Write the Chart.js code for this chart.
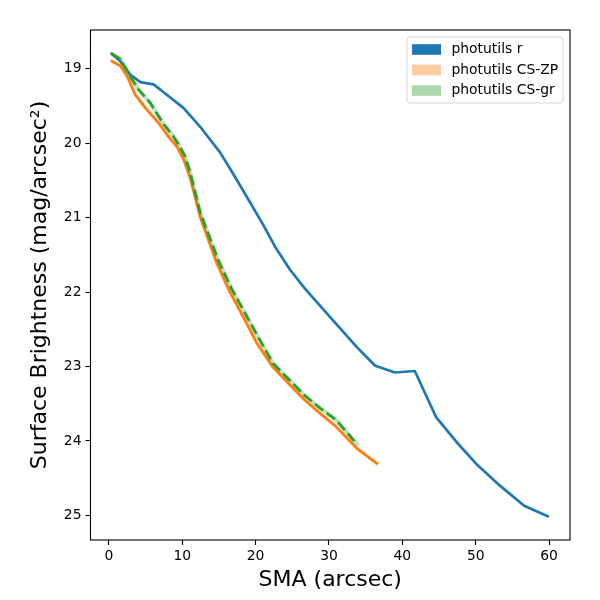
<!DOCTYPE html>
<html>
<head>
<meta charset="utf-8">
<script src="https://cdn.jsdelivr.net/npm/chart.js@4.4.1/dist/chart.umd.min.js"></script>
<style>
  html, body { margin: 0; padding: 0; background: #fff; }
  #chart { display: block; }
</style>
</head>
<body>
<canvas id="chart" width="600" height="600"></canvas>
<script>
/* Surface brightness profiles */

// photutils r
const smaR = [0.43, 1.56, 2.9, 4.3, 6.1, 7.9, 10.2, 12.45, 15.2, 17.0, 18.8, 21.06, 22.65,
  24.7, 26.7, 30.1, 33.8, 36.3, 39.0, 41.7, 44.6, 47.35, 50.2, 53.3, 56.6, 59.8];
const sbR = [18.80, 18.90, 19.08, 19.18, 19.21, 19.35, 19.53, 19.78, 20.13, 20.42, 20.72, 21.10, 21.39,
  21.70, 21.95, 22.33, 22.74, 22.99, 23.08, 23.06, 23.68, 24.01, 24.32, 24.60, 24.87, 25.01];

// photutils CS-ZP
const smaZP = [0.43, 1.56, 2.5, 3.6, 5.0, 6.8, 8.1, 9.3, 10.2, 11.1, 12.45, 14.7, 16.5,
  18.3, 20.2, 22.3, 24.7, 26.7, 28.8, 31.0, 33.8, 36.5];
const sbZP = [18.90, 18.96, 19.10, 19.35, 19.53, 19.73, 19.91, 20.05, 20.22, 20.47, 20.99, 21.61, 22.00,
  22.33, 22.69, 23.00, 23.25, 23.45, 23.63, 23.81, 24.10, 24.30];

// photutils CS-gr
const smaGr = [0.43, 1.56, 2.9, 4.05, 5.65, 7.5, 8.8, 9.7, 10.4, 11.1, 12.45, 14.9, 16.7,
  18.6, 20.6, 22.4, 24.2, 26.7, 28.8, 31.0, 33.8];
const sbGr = [18.80, 18.87, 19.10, 19.28, 19.46, 19.75, 19.91, 20.05, 20.18, 20.40, 20.93, 21.57, 21.95,
  22.29, 22.65, 22.96, 23.14, 23.39, 23.56, 23.72, 24.04];

const xTicks = [0, 10, 20, 30, 40, 50, 60];
const yTicks = [19, 20, 21, 22, 23, 24, 25];
const legendLabels = ["photutils r", "photutils CS-ZP", "photutils CS-gr"];

const FONT = "'DejaVu Sans', sans-serif";

function points(xs, ys) {
  return xs.map((x, i) => ({ x, y: ys[i] }));
}

function line(data, color, extra) {
  return Object.assign({
    data,
    borderColor: color,
    borderWidth: 2.7,
    pointRadius: 0,
    fill: false,
    tension: 0,
    borderJoinStyle: "round",
    borderCapStyle: "square"
  }, extra || {});
}

// frame around the plot area
const framePlugin = {
  id: "frame",
  afterDatasetsDraw(chart) {
    const { ctx, chartArea: a } = chart;
    ctx.save();
    ctx.strokeStyle = "#000";
    ctx.lineWidth = 1.1;
    ctx.strokeRect(a.left, a.top, a.right - a.left, a.bottom - a.top);
    ctx.restore();
  }
};

// matplotlib-style legend with patches, upper right
const legendPlugin = {
  id: "patchLegend",
  afterDraw(chart) {
    const { ctx } = chart;
    const swatches = ["#1f77b4", "rgba(255,127,14,0.4)", "rgba(44,160,44,0.4)"];
    const bx = 407, by = 37, bw = 156, bh = 66;
    ctx.save();
    ctx.beginPath();
    ctx.roundRect(bx, by, bw, bh, 3);
    ctx.fillStyle = "rgba(255,255,255,0.8)";
    ctx.fill();
    ctx.strokeStyle = "#d6d6d6";
    ctx.lineWidth = 1;
    ctx.stroke();
    ctx.font = "13.9px " + FONT;
    ctx.textBaseline = "middle";
    ctx.textAlign = "left";
    legendLabels.forEach((label, i) => {
      const cy = by + 12.5 + i * 20.5;
      ctx.fillStyle = swatches[i];
      ctx.fillRect(412, cy - 5.3, 29, 10.6);
      ctx.fillStyle = "#000";
      ctx.fillText(label, 451.5, cy);
    });
    ctx.restore();
  }
};

new Chart(document.getElementById("chart"), {
  type: "line",
  data: {
    datasets: [
      line(points(smaGr, sbGr), "#2ca02c", { borderDash: [10.3, 4.4], borderCapStyle: "butt", order: 0 }),
      line(points(smaGr, sbGr), "rgba(44,160,44,0.3)", { borderWidth: 4, order: 1 }),
      line(points(smaZP, sbZP), "#ff7f0e", { order: 2 }),
      line(points(smaZP, sbZP), "rgba(255,127,14,0.2)", { borderWidth: 3.6, order: 3 }),
      line(points(smaR, sbR), "#1f77b4", { order: 4 })
    ]
  },
  options: {
    responsive: false,
    animation: false,
    devicePixelRatio: 1,
    layout: { padding: { top: 30, right: 30, left: 0, bottom: 0 } },
    plugins: {
      legend: { display: false },
      tooltip: { enabled: false }
    },
    scales: {
      x: {
        type: "linear",
        min: -2.5,
        max: 62.85,
        afterBuildTicks: (s) => { s.ticks = xTicks.map(v => ({ value: v })); },
        afterFit: (s) => { s.height = 60; },
        grid: { drawOnChartArea: false, drawTicks: true, tickLength: 5, tickColor: "#000", tickWidth: 1.1 },
        border: { display: false },
        ticks: { color: "#000", font: { family: FONT, size: 13.9 }, padding: 3, maxRotation: 0 },
        title: {
          display: true,
          text: "SMA (arcsec)",
          color: "#000",
          font: { family: FONT, size: 22 },
          padding: { top: 0, bottom: 7 }
        }
      },
      y: {
        type: "linear",
        reverse: true,
        min: 18.48,
        max: 25.33,
        afterBuildTicks: (s) => { s.ticks = yTicks.map(v => ({ value: v })); },
        afterFit: (s) => { s.width = 90.5; },
        grid: { drawOnChartArea: false, drawTicks: true, tickLength: 5, tickColor: "#000", tickWidth: 1.1 },
        border: { display: false },
        ticks: { color: "#000", font: { family: FONT, size: 13.9 }, padding: 4 },
        title: {
          display: true,
          text: "Surface Brightness (mag/arcsec²)",
          color: "#000",
          font: { family: FONT, size: 22 },
          padding: { top: 27, bottom: 0 }
        }
      }
    }
  },
  plugins: [framePlugin, legendPlugin]
});
</script>
</body>
</html>
